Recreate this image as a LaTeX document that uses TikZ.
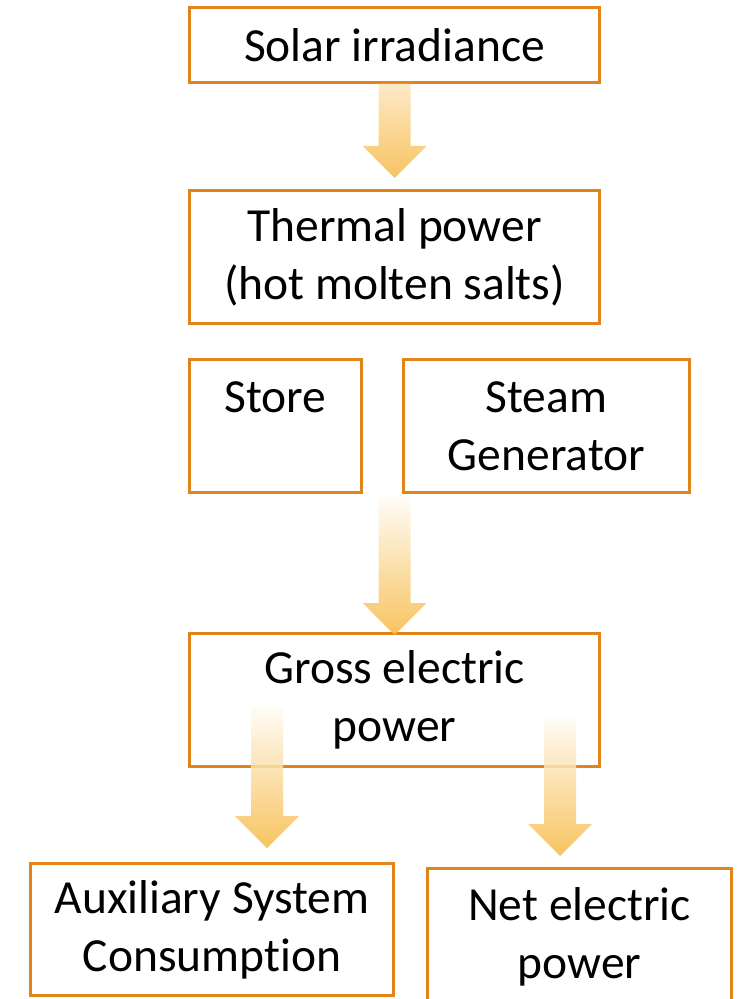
\documentclass[tikz,border=0pt]{standalone}
\usepackage{fontspec}
\setmainfont{Carlito}[Ligatures=NoCommon]
\usetikzlibrary{calc}
\definecolor{boxline}{RGB}{225,133,26}
\definecolor{flowtop}{RGB}{255,252,245}
\definecolor{flowmid}{RGB}{252,230,190}
\definecolor{flowbot}{RGB}{246,185,69}

\tikzset{
  stage/.style={draw=boxline, line width=1.5pt, fill=white, inner sep=0pt,
    align=center, font=\fontsize{23.75}{29}\selectfont},
  flow/.style={top color=flowtop, bottom color=flowbot, fill opacity=0.85, draw=none}
}
% Block arrow pointing down, from a start point to its tip
\newcommand{\flowarrow}[3][]{%
  \shade[flow,#1] let \p1=(#2), \p2=(#3) in
    (\x1-8pt,\y1) -- (\x1+8pt,\y1) -- (\x1+8pt,\y2+16pt) -- (\x1+16pt,\y2+16pt)
    -- (\x1,\y2) -- (\x1-16pt,\y2+16pt) -- (\x1-8pt,\y2+16pt) -- cycle;}

\begin{document}
\begin{tikzpicture}[x=0.5pt, y=-0.5pt]
    \useasboundingbox (0,0) rectangle (736,999);

    % Main chain of stages
    \node[stage, minimum width=205pt, minimum height=37.5pt] (solar) at (394.5,45) {Solar irradiance};
    \node[stage, minimum width=205pt, minimum height=66.5pt] (thermal) at (394.5,257) {Thermal power\\(hot molten salts)};

    % Store and steam generator side by side
    \node[stage, minimum width=86pt, minimum height=66.5pt] (store) at (275.5,426) {Store\\\vphantom{Generator}};
    \node[stage, minimum width=143pt, minimum height=66.5pt] (steam) at (546.5,426) {Steam\\Generator};

    \node[stage, minimum width=205pt, minimum height=66.5pt] (gross) at (394.5,700) {Gross electric\\power};

    % Split into consumption and net output
    \node[stage, minimum width=181.5pt, minimum height=66pt] (aux) at (212,929.5) {Auxiliary System\\Consumption};
    \node[stage, minimum width=152pt, minimum height=68.5pt] (net) at (579.5,936.75) {Net electric\\power};

    % Arrow end points
    \coordinate (t1) at (394.5,178);
    \coordinate (s2) at (394.5,497);
    \coordinate (t2) at (394.5,635);
    \coordinate (s3) at (267,708);
    \coordinate (t3) at (267,848);
    \coordinate (s4) at (560,718);
    \coordinate (t4) at (560,856);

    % Flow arrows
    \flowarrow[top color=flowmid]{solar.south}{t1}
    \flowarrow{s2}{t2}
    \flowarrow{s3}{t3}
    \flowarrow{s4}{t4}

\end{tikzpicture}
\end{document}
